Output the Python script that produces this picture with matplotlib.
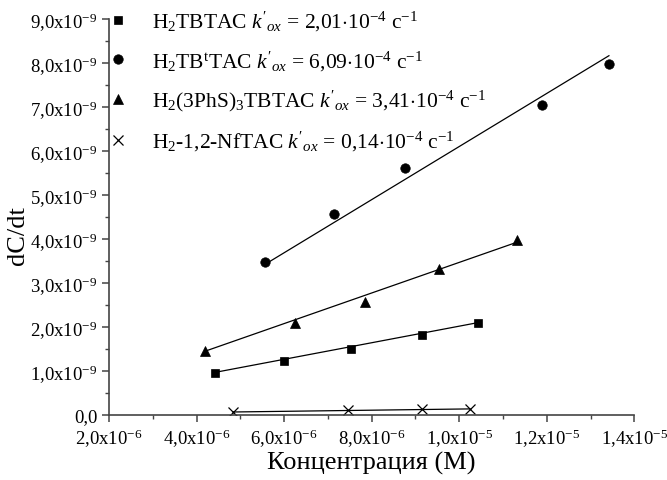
import numpy as np
import matplotlib
matplotlib.use("Agg")
import matplotlib.pyplot as plt
from matplotlib.ticker import FixedLocator, FuncFormatter

plt.rcParams['font.family'] = ['Liberation Serif', 'DejaVu Serif']
plt.rcParams['mathtext.fontset'] = 'custom'
plt.rcParams['mathtext.rm'] = 'Liberation Serif'
plt.rcParams['mathtext.it'] = 'Liberation Serif:italic'

# concentration (M) and rate dC/dt for each compound
conc_tbtac = [4.42e-6, 6.00e-6, 7.53e-6, 9.14e-6, 10.42e-6]
rate_tbtac = [0.96e-9, 1.23e-9, 1.50e-9, 1.82e-9, 2.10e-9]
fit_tbtac = [0.97e-9, 2.10e-9]      # fitted line at first / last point

conc_tbttac = [5.57e-6, 7.14e-6, 8.77e-6, 11.89e-6, 13.42e-6]
rate_tbttac = [3.47e-9, 4.58e-9, 5.62e-9, 7.05e-9, 7.98e-9]
fit_tbttac = [3.43e-9, 8.17e-9]

conc_phs = [4.19e-6, 6.24e-6, 7.84e-6, 9.54e-6, 11.32e-6]
rate_phs = [1.46e-9, 2.10e-9, 2.56e-9, 3.32e-9, 3.98e-9]
fit_phs = [1.45e-9, 3.93e-9]

conc_nf = [4.84e-6, 7.47e-6, 9.15e-6, 10.24e-6]
rate_nf = [0.08e-9, 0.11e-9, 0.13e-9, 0.14e-9]
fit_nf = [0.07e-9, 0.14e-9]

labels = [
    r"H$_2$TBTAC $k'_{ox}$ = 2,01$\cdot$10$^{-4}$ с$^{-1}$",
    r"H$_2$TB$^{\mathrm{t}}$TAC $k'_{ox}$ = 6,09$\cdot$10$^{-4}$ с$^{-1}$",
    r"H$_2$(3PhS)$_3$TBTAC $k'_{ox}$ = 3,41$\cdot$10$^{-4}$ с$^{-1}$",
    r"H$_2$-1,2-NfTAC $k'_{ox}$ = 0,14$\cdot$10$^{-4}$ с$^{-1}$",
]

series = [
    (conc_tbtac, rate_tbtac, fit_tbtac, 's', 6.3),
    (conc_tbttac, rate_tbttac, fit_tbttac, 'o', 6.8),
    (conc_phs, rate_phs, fit_phs, '^', 7.8),
    (conc_nf, rate_nf, fit_nf, 'x', 6.5),
]

fig = plt.figure(figsize=(6.67, 4.81), dpi=100)
ax = fig.add_axes([0.1634, 0.135, 0.7876, 0.823])

for (x, y, fit, m, ms), lab in zip(series, labels):
    ax.plot([min(x), max(x)], fit, color='black', lw=0.9)
    ax.plot(x, y, ls='none', marker=m, ms=ms, color='black',
            mew=0.9 if m == 'x' else 0.5, label=lab)

ax.set_xlim(2e-6, 1.4e-5)
ax.set_ylim(0, 9e-9)


def sci_fmt(v, pos):
    if abs(v) < 1e-20:
        return "0,0"
    e = int(np.floor(np.log10(abs(v)) + 1e-9))
    m = v / 10 ** e
    return ("%.1f" % m).replace('.', ',') + "x10$^{%d}$" % e


# ticks only inside the axis range
ax.xaxis.set_major_locator(FixedLocator(np.arange(2, 15, 2) * 1e-6))
ax.xaxis.set_minor_locator(FixedLocator(np.arange(3, 14, 2) * 1e-6))
ax.yaxis.set_major_locator(FixedLocator(np.arange(0, 10) * 1e-9))
ax.yaxis.set_minor_locator(FixedLocator(np.arange(0.5, 9, 1) * 1e-9))
ax.xaxis.set_major_formatter(FuncFormatter(sci_fmt))
ax.yaxis.set_major_formatter(FuncFormatter(sci_fmt))

for s in ['top', 'right']:
    ax.spines[s].set_visible(False)
for s in ['left', 'bottom']:
    ax.spines[s].set_color('#444444')
    ax.spines[s].set_linewidth(1.2)
ax.tick_params(which='major', direction='out', length=5, width=1.1,
               color='#444444', labelsize=13.5)
ax.tick_params(which='minor', direction='out', length=3, width=1.0,
               color='#444444')

ax.set_xlabel("Концентрация (М)", fontsize=19, labelpad=1)
ax.set_ylabel("dC/dt", fontsize=19)
ax.yaxis.set_label_coords(-0.152, 0.456)

ax.legend(loc='upper left', frameon=False, fontsize=15.5, handlelength=1.0,
          handletextpad=1.08, labelspacing=0.72, borderaxespad=0.0,
          bbox_to_anchor=(-0.019, 1.048))

fig.savefig("out.png", dpi=100)
